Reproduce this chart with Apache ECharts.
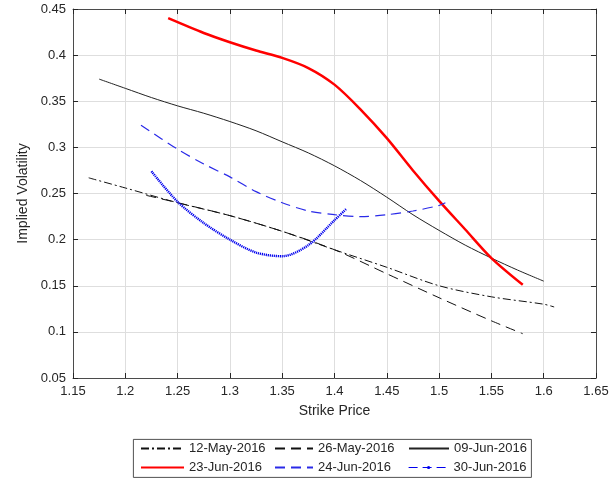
<!DOCTYPE html>
<html>
<head>
<meta charset="utf-8">
<script src="https://cdn.jsdelivr.net/npm/echarts@6/dist/echarts.min.js"></script>
<style>
  html, body { margin: 0; padding: 0; background: #fff; }
  #chart { width: 616px; height: 479px; }
</style>
</head>
<body>
<div id="chart"></div>
<script>
// values: [strike, implied vol]
const may12 = [[1.165,0.267],[1.2,0.256],[1.25,0.240],[1.3,0.226],[1.35,0.209],[1.4,0.189],[1.45,0.170],[1.5,0.150],[1.55,0.138],[1.6,0.130],[1.61,0.127]]
const may26 = [[1.22,0.248],[1.25,0.240],[1.3,0.226],[1.35,0.209],[1.4,0.189],[1.45,0.163],[1.5,0.137],[1.55,0.112],[1.58,0.098]]
const jun09 = [[1.175,0.374],[1.2,0.364],[1.225,0.354],[1.25,0.345],[1.275,0.337],[1.3,0.328],[1.325,0.318],[1.35,0.306],[1.375,0.294],[1.4,0.280],[1.425,0.264],[1.45,0.246],[1.475,0.227],[1.5,0.210],[1.525,0.194],[1.55,0.180],[1.575,0.167],[1.6,0.155]]
const jun23 = [[1.241,0.440],[1.275,0.424],[1.3,0.414],[1.325,0.405],[1.35,0.397],[1.375,0.386],[1.4,0.368],[1.425,0.341],[1.45,0.310],[1.475,0.275],[1.5,0.242],[1.525,0.211],[1.55,0.180],[1.58,0.151]]
const jun24 = [[1.215,0.324],[1.25,0.298],[1.275,0.282],[1.3,0.268],[1.325,0.252],[1.35,0.240],[1.375,0.231],[1.4,0.227],[1.425,0.225],[1.45,0.227],[1.475,0.231],[1.5,0.237],[1.506,0.240]]
const jun30 = [[1.225,0.274],[1.25,0.241],[1.275,0.218],[1.3,0.200],[1.325,0.186],[1.35,0.182],[1.375,0.194],[1.4,0.221],[1.411,0.233]]
const names = ['12-May-2016','26-May-2016','09-Jun-2016','23-Jun-2016','24-Jun-2016','30-Jun-2016']

const txt = '#262626'
const fnt = 'Liberation Sans'
const fmt = v => String(+v.toFixed(2))

function line(name, data, color, width, type){
    return {
        name: name, type: 'line', data: data, smooth: 0.3,
        symbol: 'none', animation: false,
        lineStyle: { color: color, width: width, type: type },
        itemStyle: { color: color }
    }
}

const series = [
    line(names[0], may12, '#111', 1, [8,3,2,3]),
    line(names[1], may26, '#111', 1, [10,6]),
    line(names[2], jun09, '#222', 1, 'solid'),
    line(names[3], jun23, '#ff0000', 2.5, 'solid'),
    line(names[4], jun24, '#2a2ae8', 1.2, [10,6]),
    line(names[5], jun30, '#0000ee', 2.4, [1.2,0.8])
]
series[5].symbol = 'circle'
series[5].symbolSize = 3
series[5].showSymbol = false

// legend slots: [left, top, itemWidth]
const slots = [[140,442,43],[274,442,38],[408,442,40],[140,461,43],[274,461,38],[408,461,40]]
const legends = names.map((n, i) => ({
    data: [ i == 5 ? { name: n, lineStyle: { type: [9,5], width: 1.2 } } : n ],
    left: slots[i][0], top: slots[i][1], padding: 0,
    itemWidth: slots[i][2], itemHeight: i == 5 ? 4 : 14,
    selectedMode: false,
    itemStyle: i == 5 ? {} : { opacity: 0 },
    textStyle: { fontFamily: fnt, fontSize: 13, color: txt }
}))

const myChart = echarts.init(document.getElementById('chart'))
myChart.setOption({
    animation: false,
    backgroundColor: '#fff',
    grid: { left: 73, right: 20, top: 9, bottom: 101 },
    graphic: [{
        type: 'rect', z: -1, left: 133, top: 439,
        shape: { width: 398, height: 38 },
        style: { fill: '#fff', stroke: txt, lineWidth: 0.8 }
    }],
    legend: legends,
    xAxis: [{
        type: 'value', min: 1.15, max: 1.65, interval: 0.05,
        name: 'Strike Price', nameLocation: 'middle', nameGap: 26,
        nameTextStyle: { fontFamily: fnt, fontSize: 14, color: txt },
        axisLine: { lineStyle: { color: txt, width: 0.8 } },
        axisTick: { inside: true, length: 5, lineStyle: { color: txt } },
        axisLabel: { formatter: fmt, fontFamily: fnt, fontSize: 13, color: txt, margin: 7 },
        splitLine: { lineStyle: { color: '#dedede' } }
    }, {
        type: 'value', position: 'top', min: 1.15, max: 1.65, interval: 0.05,
        axisLine: { lineStyle: { color: txt, width: 0.8 } },
        axisTick: { inside: true, length: 5, lineStyle: { color: txt } },
        axisLabel: { show: false }, splitLine: { show: false }
    }],
    yAxis: [{
        type: 'value', min: 0.05, max: 0.45, interval: 0.05,
        name: 'Implied Volatility', nameLocation: 'middle', nameGap: 37,
        nameTextStyle: { fontFamily: fnt, fontSize: 14, color: txt },
        axisLine: { show: true, lineStyle: { color: txt, width: 0.8 } },
        axisTick: { show: true, inside: true, length: 5, lineStyle: { color: txt } },
        axisLabel: { formatter: fmt, fontFamily: fnt, fontSize: 13, color: txt, margin: 7 },
        splitLine: { lineStyle: { color: '#dedede' } }
    }, {
        type: 'value', position: 'right', min: 0.05, max: 0.45, interval: 0.05,
        axisLine: { show: true, lineStyle: { color: txt, width: 0.8 } },
        axisTick: { show: true, inside: true, length: 5, lineStyle: { color: txt } },
        axisLabel: { show: false }, splitLine: { show: false }
    }],
    series: series
})
</script>
</body>
</html>
